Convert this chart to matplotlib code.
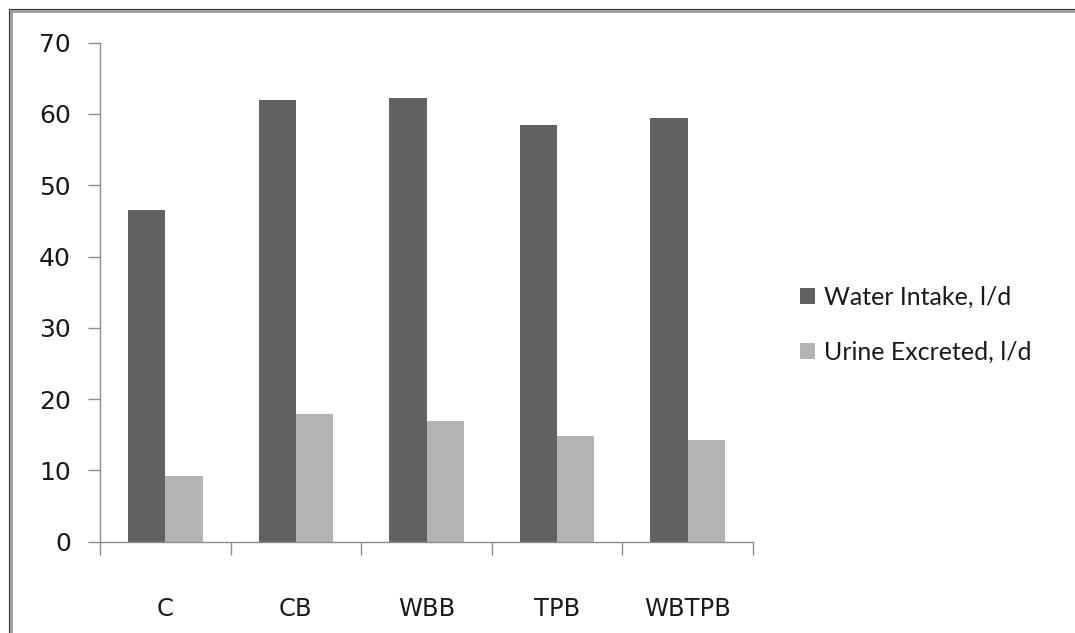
import numpy as np
import matplotlib
matplotlib.use("Agg")
import matplotlib.pyplot as plt
from matplotlib.patches import Rectangle

# daily water balance per treatment group
groups = ['C', 'CB', 'WBB', 'TPB', 'WBTPB']
water_intake = [46.5, 61.9, 62.3, 58.4, 59.5]
urine_excreted = [9.2, 17.9, 16.9, 14.8, 14.2]
series_names = ['Water Intake, l/d', 'Urine Excreted, l/d']

dark = '#616161'
light = '#b3b3b3'
axis_col = '#8c8c8c'
text_col = '#1a1a1a'

fig = plt.figure(figsize=(10.75, 6.33), dpi=100)
ax = fig.add_axes([0.093, 0.1445, 0.6075, 0.788])

x = np.arange(len(groups))
w = 1 / 3.5  # excel style gap width 150%
ax.bar(x - w / 2, water_intake, w, color=dark, label=series_names[0])
ax.bar(x + w / 2, urine_excreted, w, color=light, label=series_names[1])

ax.set_xlim(-0.5, len(groups) - 0.5)
ax.set_ylim(0, 70)
ax.set_yticks(np.arange(0, 71, 10))

# category labels centred, tick marks on the boundaries
ax.set_xticks(x)
ax.set_xticklabels(groups)
ax.set_xticks(np.arange(-0.5, len(groups)), minor=True)
ax.tick_params(axis='x', which='major', length=0, pad=40,
               labelsize=17.5, labelcolor=text_col)
ax.tick_params(axis='x', which='minor', length=9, width=1, color=axis_col)
ax.tick_params(axis='y', length=9, width=1, color=axis_col, pad=12,
               labelsize=18, labelcolor=text_col)

for side in ['top', 'right']:
    ax.spines[side].set_visible(False)
for side in ['left', 'bottom']:
    ax.spines[side].set_color(axis_col)
    ax.spines[side].set_linewidth(1)

leg = ax.legend(loc='center left', bbox_to_anchor=(0.733, 0.487),
                bbox_transform=fig.transFigure, frameon=False,
                handlelength=0.6, handleheight=0.6, handletextpad=0.35,
                labelspacing=1.3, borderpad=0,
                prop={'family': 'Lato', 'size': 18})
for t in leg.get_texts():
    t.set_color(text_col)

# double grey frame round the chart area
W, H = 1075, 633
fig.patches.append(Rectangle((9 / W, -0.1), 1.2, (H - 9) / H + 0.1,
                             transform=fig.transFigure, fill=False,
                             edgecolor='#333333', linewidth=0.8))
fig.patches.append(Rectangle((11 / W, -0.1), 1.2, (H - 11) / H + 0.1,
                             transform=fig.transFigure, fill=False,
                             edgecolor='#9a9a9a', linewidth=2))

fig.savefig('out.png', dpi=100)
